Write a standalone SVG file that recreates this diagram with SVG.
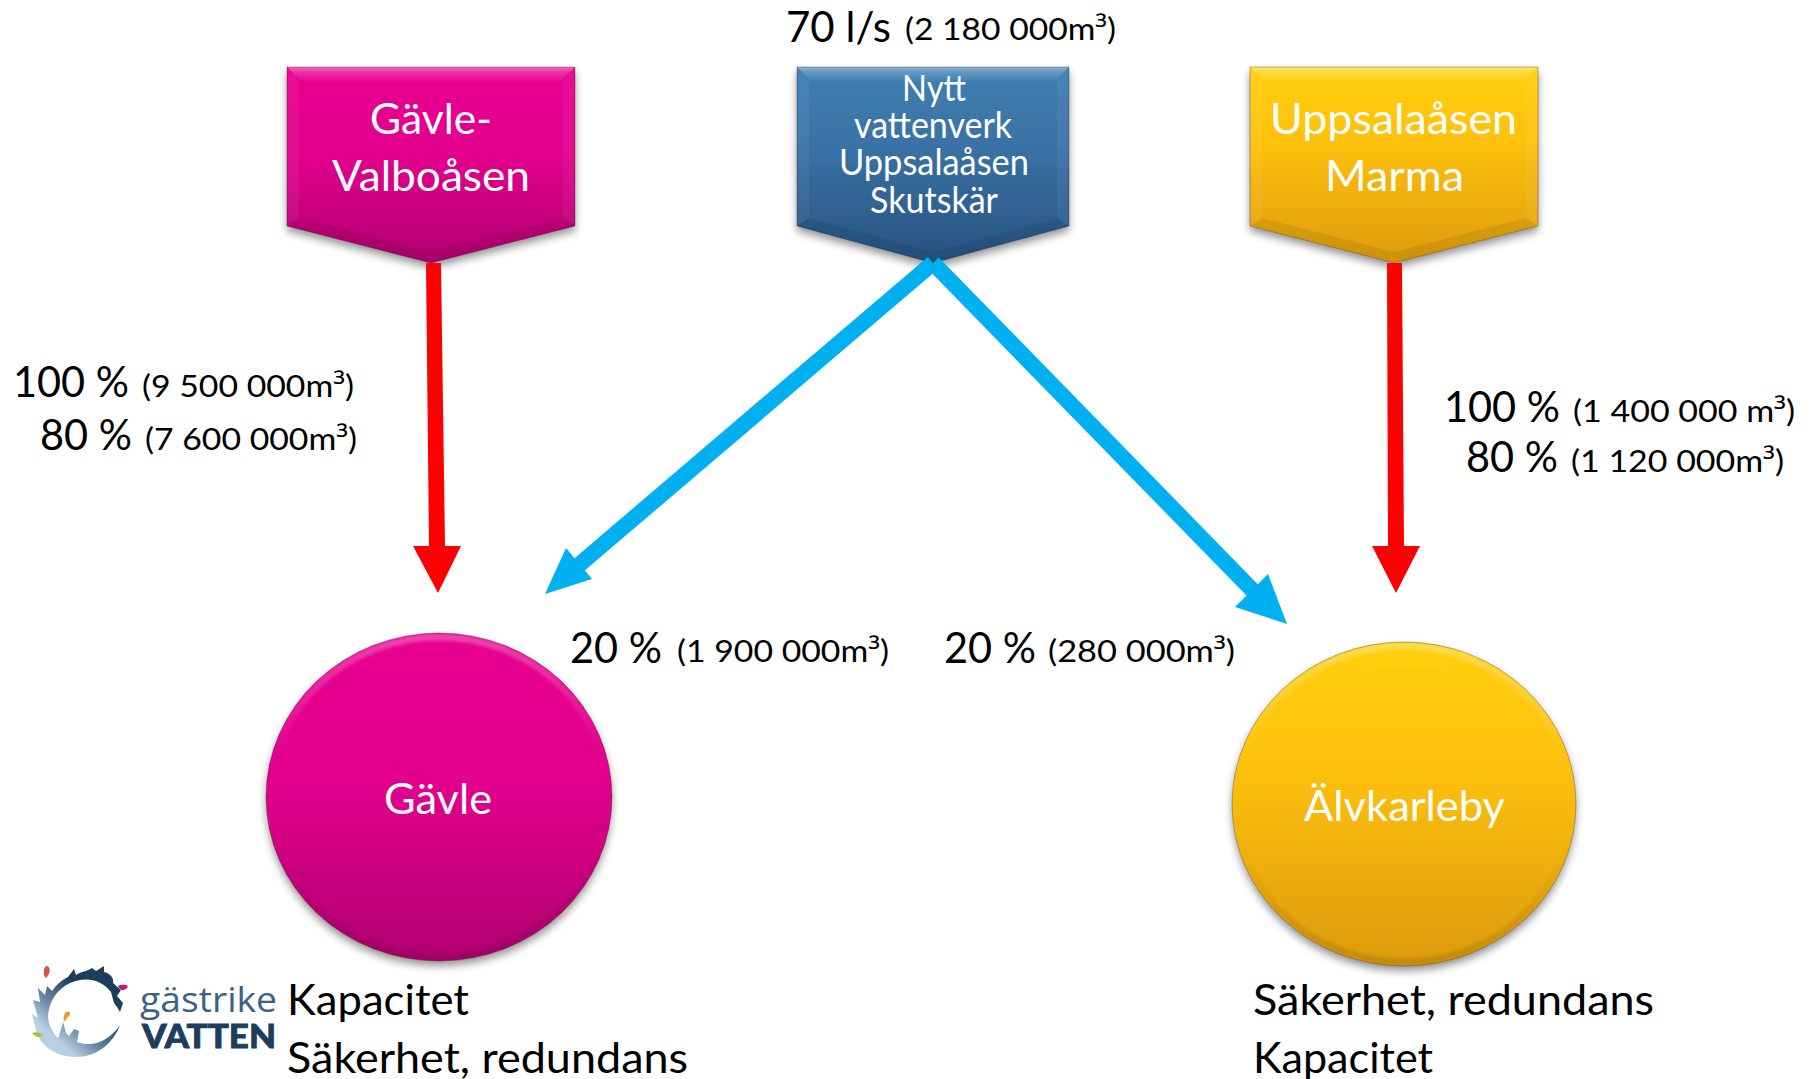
<svg xmlns="http://www.w3.org/2000/svg" width="1814" height="1079" viewBox="0 0 1814 1079">
<style>
text{font-family:"Lato","Open Sans","Liberation Sans",sans-serif;fill:#000}
.w{fill:#fff}
.big{font-size:42px}
.small{font-size:31px}
.b{font-size:42px}
.n1{font-size:43px}
.n2{font-size:36px}
.sup{font-family:"Open Sans",sans-serif}
.top{fill:url(#lite)}
.side{fill:#fff;opacity:.05}
.low{fill:#000;opacity:.07}
.rim{fill:none;stroke:url(#rimg);stroke-width:7;filter:url(#soft)}
.ol{fill:none;stroke:#000;stroke-opacity:.28;stroke-width:1}
</style>
<defs>
<linearGradient id="pk" x1="0" y1="0" x2="0" y2="1"><stop offset="0" stop-color="#e80690"/><stop offset=".45" stop-color="#e2058d"/><stop offset="1" stop-color="#b20570"/></linearGradient>
<linearGradient id="bl" x1="0" y1="0" x2="0" y2="1"><stop offset="0" stop-color="#3f7fb3"/><stop offset=".4" stop-color="#3a72a5"/><stop offset="1" stop-color="#265380"/></linearGradient>
<linearGradient id="ye" x1="0" y1="0" x2="0" y2="1"><stop offset="0" stop-color="#ffd010"/><stop offset=".4" stop-color="#fdc010"/><stop offset="1" stop-color="#dd9b0c"/></linearGradient>
<linearGradient id="lite" x1="0" y1="0" x2="0" y2="1"><stop offset="0" stop-color="#fff" stop-opacity=".42"/><stop offset=".35" stop-color="#fff" stop-opacity=".2"/><stop offset="1" stop-color="#fff" stop-opacity=".03"/></linearGradient>
<linearGradient id="rimg" x1="0" y1="0" x2="0" y2="1"><stop offset="0" stop-color="#fff" stop-opacity=".26"/><stop offset=".35" stop-color="#fff" stop-opacity="0"/><stop offset=".65" stop-color="#000" stop-opacity="0"/><stop offset="1" stop-color="#000" stop-opacity=".12"/></linearGradient>
<linearGradient id="ring" gradientUnits="userSpaceOnUse" x1="48" y1="1032" x2="100" y2="975"><stop offset="0" stop-color="#b9cfe3"/><stop offset=".28" stop-color="#6a89a6"/><stop offset=".7" stop-color="#1c3d5c"/><stop offset="1" stop-color="#1c3d5c"/></linearGradient>
<filter id="sh" x="-15%" y="-15%" width="130%" height="135%"><feGaussianBlur in="SourceAlpha" stdDeviation="4"/><feOffset dy="5"/><feComponentTransfer><feFuncA type="linear" slope=".42"/></feComponentTransfer><feMerge><feMergeNode/><feMergeNode in="SourceGraphic"/></feMerge></filter>
<filter id="soft" x="-5%" y="-5%" width="110%" height="110%"><feGaussianBlur stdDeviation="1.5"/></filter>
</defs>
<rect width="1814" height="1079" fill="#fff"/>

<g id="node-gavle-valboasen">
<polygon points="287,67 575,67 575,226 431,263 287,226" fill="url(#pk)" filter="url(#sh)"/>
<polygon class="top" points="287,67 575,67 561,81 301,81"/>
<polygon class="side" points="287,67 299,81 299,218 287,226"/>
<polygon class="side" points="575,67 563,81 563,218 575,226"/>
<polygon class="low" points="287,226 299,218 431,252 563,218 575,226 431,263"/>
<polygon class="ol" points="287,67 575,67 575,226 431,263 287,226"/>
<text class="w n1" x="370" y="134" textLength="122" lengthAdjust="spacingAndGlyphs">Gävle-</text>
<text class="w n1" x="332" y="191" textLength="198" lengthAdjust="spacingAndGlyphs">Valboåsen</text>
</g>

<g id="node-nytt-vattenverk">
<polygon points="797,67 1069,67 1069,226 933,263 797,226" fill="url(#bl)" filter="url(#sh)"/>
<polygon class="top" points="797,67 1069,67 1055,81 811,81"/>
<polygon class="side" points="797,67 809,81 809,218 797,226"/>
<polygon class="side" points="1069,67 1057,81 1057,218 1069,226"/>
<polygon class="low" points="797,226 809,218 933,252 1057,218 1069,226 933,263"/>
<polygon class="ol" points="797,67 1069,67 1069,226 933,263 797,226"/>
<text class="w n2" x="902" y="101" textLength="64" lengthAdjust="spacingAndGlyphs">Nytt</text>
<text class="w n2" x="854" y="138" textLength="158" lengthAdjust="spacingAndGlyphs">vattenverk</text>
<text class="w n2" x="839" y="175" textLength="190" lengthAdjust="spacingAndGlyphs">Uppsalaåsen</text>
<text class="w n2" x="870" y="213" textLength="128" lengthAdjust="spacingAndGlyphs">Skutskär</text>
</g>

<g id="node-uppsalaasen-marma">
<polygon points="1250,67 1538,67 1538,226 1394,263 1250,226" fill="url(#ye)" filter="url(#sh)"/>
<polygon class="top" points="1250,67 1538,67 1524,81 1264,81"/>
<polygon class="side" points="1250,67 1262,81 1262,218 1250,226"/>
<polygon class="side" points="1538,67 1526,81 1526,218 1538,226"/>
<polygon class="low" points="1250,226 1262,218 1394,252 1526,218 1538,226 1394,263"/>
<polygon class="ol" points="1250,67 1538,67 1538,226 1394,263 1250,226"/>
<text class="w n1" x="1270" y="134" textLength="247" lengthAdjust="spacingAndGlyphs">Uppsalaåsen</text>
<text class="w n1" x="1325" y="191" textLength="139" lengthAdjust="spacingAndGlyphs">Marma</text>
</g>

<g id="node-gavle">
<ellipse cx="439" cy="797" rx="173" ry="164" fill="url(#pk)" filter="url(#sh)"/>
<ellipse class="rim" cx="439" cy="797" rx="169" ry="160"/>
<ellipse class="ol" cx="439" cy="797" rx="173" ry="164"/>
<text class="w n1" x="384" y="814" textLength="108" lengthAdjust="spacingAndGlyphs">Gävle</text>
</g>

<g id="node-alvkarleby">
<ellipse cx="1404" cy="804" rx="172" ry="162" fill="url(#ye)" filter="url(#sh)"/>
<ellipse class="rim" cx="1404" cy="804" rx="168" ry="158"/>
<ellipse class="ol" cx="1404" cy="804" rx="172" ry="162"/>
<text class="w n1" x="1304" y="821" textLength="201" lengthAdjust="spacingAndGlyphs">Älvkarleby</text>
</g>

<g id="connectors">
<polygon fill="#f00" points="426,263 441,263 445,546 461,546 438,593 413,546 429,546"/>
<polygon fill="#f00" points="1387,263 1402,263 1404,546 1420,546 1396,593 1372,546 1388,546"/>
<line x1="933" y1="263" x2="566" y2="576" stroke="#00b0f0" stroke-width="16"/>
<polygon fill="#00b0f0" points="545,594 566,548 592,579"/>
<line x1="933" y1="263" x2="1262" y2="600" stroke="#00b0f0" stroke-width="16"/>
<polygon fill="#00b0f0" points="1287,624 1235,607 1268,574"/>
</g>

<g id="labels">
<text class="big" x="786" y="42" textLength="105" lengthAdjust="spacingAndGlyphs">70 l/s</text>
<text class="small" x="905" y="40" textLength="211" lengthAdjust="spacingAndGlyphs">(2 180 000m<tspan class="sup">³</tspan>)</text>
<text class="big" x="13" y="397" textLength="116" lengthAdjust="spacingAndGlyphs">100 %</text>
<text class="small" x="142" y="397" textLength="212" lengthAdjust="spacingAndGlyphs">(9 500 000m<tspan class="sup">³</tspan>)</text>
<text class="big" x="40" y="450" textLength="92" lengthAdjust="spacingAndGlyphs">80 %</text>
<text class="small" x="145" y="450" textLength="212" lengthAdjust="spacingAndGlyphs">(7 600 000m<tspan class="sup">³</tspan>)</text>
<text class="big" x="1444" y="422" textLength="116" lengthAdjust="spacingAndGlyphs">100 %</text>
<text class="small" x="1573" y="422" textLength="222" lengthAdjust="spacingAndGlyphs">(1 400 000 m<tspan class="sup">³</tspan>)</text>
<text class="big" x="1466" y="472" textLength="92" lengthAdjust="spacingAndGlyphs">80 %</text>
<text class="small" x="1571" y="472" textLength="213" lengthAdjust="spacingAndGlyphs">(1 120 000m<tspan class="sup">³</tspan>)</text>
<text class="big" x="570" y="663" textLength="92" lengthAdjust="spacingAndGlyphs">20 %</text>
<text class="small" x="677" y="662" textLength="212" lengthAdjust="spacingAndGlyphs">(1 900 000m<tspan class="sup">³</tspan>)</text>
<text class="big" x="944" y="663" textLength="92" lengthAdjust="spacingAndGlyphs">20 %</text>
<text class="small" x="1048" y="662" textLength="187" lengthAdjust="spacingAndGlyphs">(280 000m<tspan class="sup">³</tspan>)</text>
<text class="b" x="287" y="1015" textLength="182" lengthAdjust="spacingAndGlyphs">Kapacitet</text>
<text class="b" x="287" y="1073" textLength="401" lengthAdjust="spacingAndGlyphs">Säkerhet, redundans</text>
<text class="b" x="1253" y="1015" textLength="401" lengthAdjust="spacingAndGlyphs">Säkerhet, redundans</text>
<text class="b" x="1253" y="1073" textLength="180" lengthAdjust="spacingAndGlyphs">Kapacitet</text>
</g>

<g id="logo">
<path fill="url(#ring)" d="M120,1025C113,1044 96,1057 76,1057C56,1057 40,1046 36,1030L32,1014L38,1018L33,1000L40,1002L38,988L45,995L47,986L52,991C57,984 62,980 68,977L74,969L76,975C82,971 86,972 92,968L96,971L104,966L104,972C110,973 114,978 113,983L121,990L117,996L123,1003L120,1012L117,1007L114,1003L111,992C100,978 84,977 70,983C56,990 49,1002 48,1016C48,1024 52,1032 58,1038L62,1026L63,1022L66,1033L69,1036L74,1029L79,1031L77,1042C94,1048 110,1040 120,1025Z"/>
<path d="M46,966C51,966 51,973 46,978C43,976 43,969 46,966Z" fill="#d9504f"/>
<path d="M118,986C122,984 126,985 128,986C126,991 121,992 118,986Z" fill="#c2187a"/>
<path d="M66,1012C71,1011 71,1014 68,1017C66,1019 65,1021 64,1022C63,1018 64,1014 66,1012Z" fill="#ec9a2a"/>
<path d="M32,1033C36,1031 41,1033 43,1036C39,1038 35,1037 32,1033Z" fill="#a6c23a"/>
<text x="140" y="1012" font-size="35" style="font-family:'Open Sans',sans-serif;fill:#3a6283" textLength="137" lengthAdjust="spacingAndGlyphs">gästrike</text>
<text x="142" y="1048" font-size="32" font-weight="900" stroke="#1c3d5c" stroke-width=".8" style="fill:#1c3d5c" textLength="134" lengthAdjust="spacingAndGlyphs">VATTEN</text>
</g>
</svg>
